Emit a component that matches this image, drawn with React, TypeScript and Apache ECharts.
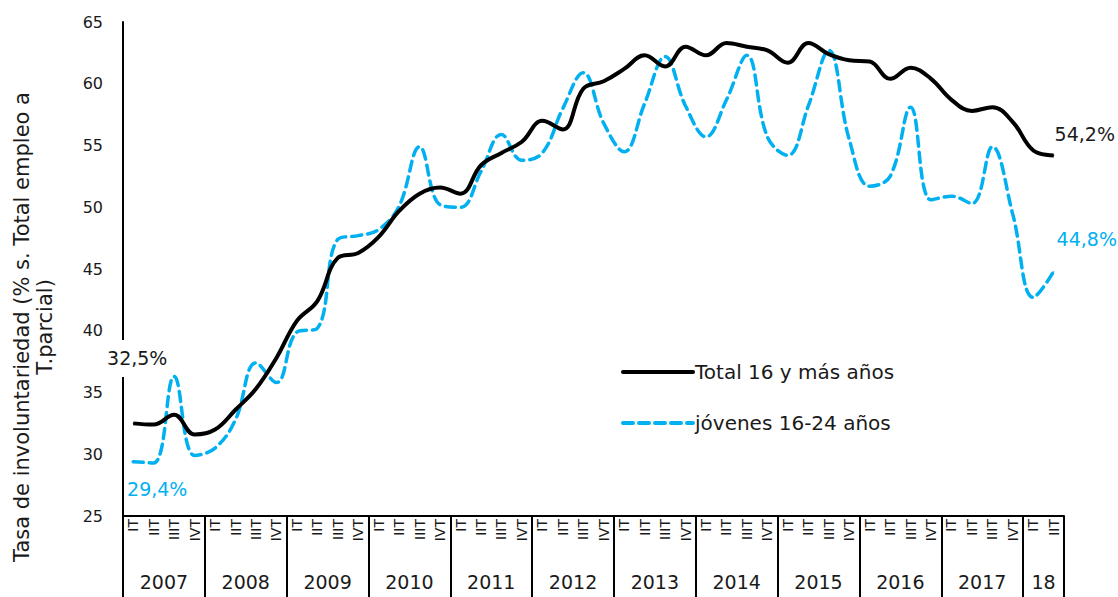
import React, { useEffect, useRef } from "react";
import * as echarts from "echarts";

const quarterLabels: string[] = [
  "IT", "IIT", "IIIT", "IVT", "IT", "IIT", "IIIT", "IVT", "IT", "IIT", "IIIT", "IVT",
  "IT", "IIT", "IIIT", "IVT", "IT", "IIT", "IIIT", "IVT", "IT", "IIT", "IIIT", "IVT",
  "IT", "IIT", "IIIT", "IVT", "IT", "IIT", "IIIT", "IVT", "IT", "IIT", "IIIT", "IVT",
  "IT", "IIT", "IIIT", "IVT", "IT", "IIT", "IIIT", "IVT", "IT", "IIT",
];

const yearLabels: string[] = ["2007", "2008", "2009", "2010", "2011", "2012", "2013", "2014", "2015", "2016", "2017", "18"];
const quartersPerYear: number[] = [4, 4, 4, 4, 4, 4, 4, 4, 4, 4, 4, 2];

const totalValues: number[] = [
  32.5, 32.4, 33.2, 31.6, 32.0, 33.6, 35.3, 37.8, 40.8, 42.4, 45.9, 46.3,
  47.6, 49.7, 51.1, 51.6, 51.1, 53.4, 54.4, 55.3, 57.0, 56.3, 59.6, 60.2,
  61.2, 62.3, 61.4, 63.0, 62.3, 63.3, 63.0, 62.7, 61.7, 63.3, 62.4, 61.9,
  61.8, 60.4, 61.3, 60.4, 58.7, 57.8, 58.1, 56.9, 54.6, 54.2,
];

const youthValues: number[] = [
  29.4, 29.3, 36.3, 29.9, 30.5, 32.8, 37.4, 35.8, 39.9, 40.2, 47.4, 47.7,
  48.2, 50.1, 54.9, 50.2, 50.0, 52.9, 55.9, 53.8, 54.4, 58.0, 60.9, 56.8,
  54.5, 58.4, 62.2, 58.2, 55.7, 58.7, 62.3, 55.7, 54.2, 58.2, 62.7, 55.5,
  51.7, 52.5, 58.1, 50.6, 50.9, 50.3, 54.9, 49.4, 42.7, 44.8,
];

const seriesNames: string[] = ["Total 16 y más años", "jóvenes 16-24 años"];
const totalEndLabels: string[] = ["32,5%", "54,2%"];
const youthEndLabels: string[] = ["29,4%", "44,8%"];

const FONT = "DejaVu Sans";
const BLUE = "#00B0F0";
const TXT = "#1a1a1a";

export default function App() {
  const ref = useRef<HTMLDivElement>(null);

  useEffect(() => {
    if (!ref.current) return;
    const chart = echarts.init(ref.current, undefined, { renderer: "svg" });

    const boundaries: number[] = [0];
    const centres: number[] = [];
    quartersPerYear.forEach((q) => {
      const start = boundaries[boundaries.length - 1];
      centres.push(start + q / 2);
      boundaries.push(start + q);
    });
    const nQ = quarterLabels.length;

    const labelled = (v: number, color: string, label: any) => ({
      value: v,
      symbol: "circle",
      symbolSize: 1,
      itemStyle: { color },
      label: { show: true, color, fontSize: 19, fontFamily: FONT, ...label },
    });

    const totalData = totalValues.map((v, i) => {
      if (i === 0)
        return labelled(v, "#000", {
          position: "top", distance: 46, offset: [4, 0], formatter: totalEndLabels[0],
          color: TXT, backgroundColor: "#ffffff", padding: [9, 3, 9, 3],
        });
      if (i === totalValues.length - 1)
        return labelled(v, "#000", {
          position: "top", distance: 11, offset: [31, 0], formatter: totalEndLabels[1], color: TXT,
        });
      return v;
    });
    const youthData = youthValues.map((v, i) => {
      if (i === 0)
        return labelled(v, BLUE, {
          position: "bottom", distance: 17, offset: [24, 0], formatter: youthEndLabels[0],
        });
      if (i === youthValues.length - 1)
        return labelled(v, BLUE, {
          position: "top", distance: 22, offset: [33, 0], formatter: youthEndLabels[1],
        });
      return v;
    });

    chart.setOption({
      animation: false,
      grid: { left: 123, right: 54, top: 22, bottom: 81, containLabel: false },
      legend: {
        orient: "vertical",
        left: 616,
        top: 357,
        itemWidth: 70,
        itemHeight: 20,
        itemGap: 31,
        selectedMode: false,
        itemStyle: { opacity: 0 },
        lineStyle: { width: 4, cap: "round" },
        textStyle: { fontSize: 20, fontFamily: FONT, color: TXT, padding: [0, 0, 0, -3] },
        data: seriesNames,
      },
      xAxis: [
        {
          type: "category",
          data: quarterLabels,
          boundaryGap: true,
          position: "bottom",
          axisLine: { show: true, lineStyle: { color: "#000", width: 2 } },
          axisTick: { show: false },
          axisLabel: {
            interval: 0, rotate: 90, margin: 3, fontSize: 14, fontFamily: FONT, color: TXT,
          },
          splitLine: { show: false },
        },
        {
          type: "value",
          min: 0,
          max: nQ,
          position: "bottom",
          axisLine: { show: false },
          splitLine: { show: false },
          axisTick: {
            show: true, inside: false, length: 81, customValues: boundaries,
            lineStyle: { color: "#000", width: 2 },
          },
          axisLabel: {
            show: true, margin: 56, fontSize: 19, fontFamily: FONT, color: TXT,
            customValues: centres,
            formatter: (v: number) => {
              const k = centres.findIndex((c) => Math.abs(c - v) < 1e-6);
              return k >= 0 ? yearLabels[k] : "";
            },
          },
        },
      ],
      yAxis: {
        type: "value",
        min: 25,
        max: 65,
        interval: 5,
        axisLine: { show: true, lineStyle: { color: "#000", width: 2 } },
        axisTick: { show: false },
        splitLine: { show: false },
        axisLabel: { fontSize: 16, fontFamily: FONT, color: TXT, margin: 20 },
      },
      graphic: [
        {
          type: "text",
          x: 33,
          y: 327,
          rotation: Math.PI / 2,
          style: {
            text: "Tasa de involuntariedad (% s. Total empleo a\nT.parcial)",
            fontSize: 21,
            fontFamily: FONT,
            fill: TXT,
            align: "center",
            verticalAlign: "middle",
            lineHeight: 23,
          },
        },
      ],
      series: [
        {
          name: seriesNames[0],
          type: "line",
          data: totalData,
          xAxisIndex: 0,
          smooth: 0.4,
          symbol: "none",
          lineStyle: { color: "#000", width: 4 },
          itemStyle: { color: "#000" },
          z: 3,
        },
        {
          name: seriesNames[1],
          type: "line",
          data: youthData,
          xAxisIndex: 0,
          smooth: 0.4,
          symbol: "none",
          lineStyle: { color: BLUE, width: 3.5, type: [10, 6], cap: "round" },
          itemStyle: { color: BLUE },
          z: 2,
        },
      ],
    });

    return () => chart.dispose();
  }, []);

  return (
    <div
      ref={ref}
      style={{ position: "absolute", left: 0, top: 0, width: 1118, height: 597, background: "#fff" }}
    />
  );
}
